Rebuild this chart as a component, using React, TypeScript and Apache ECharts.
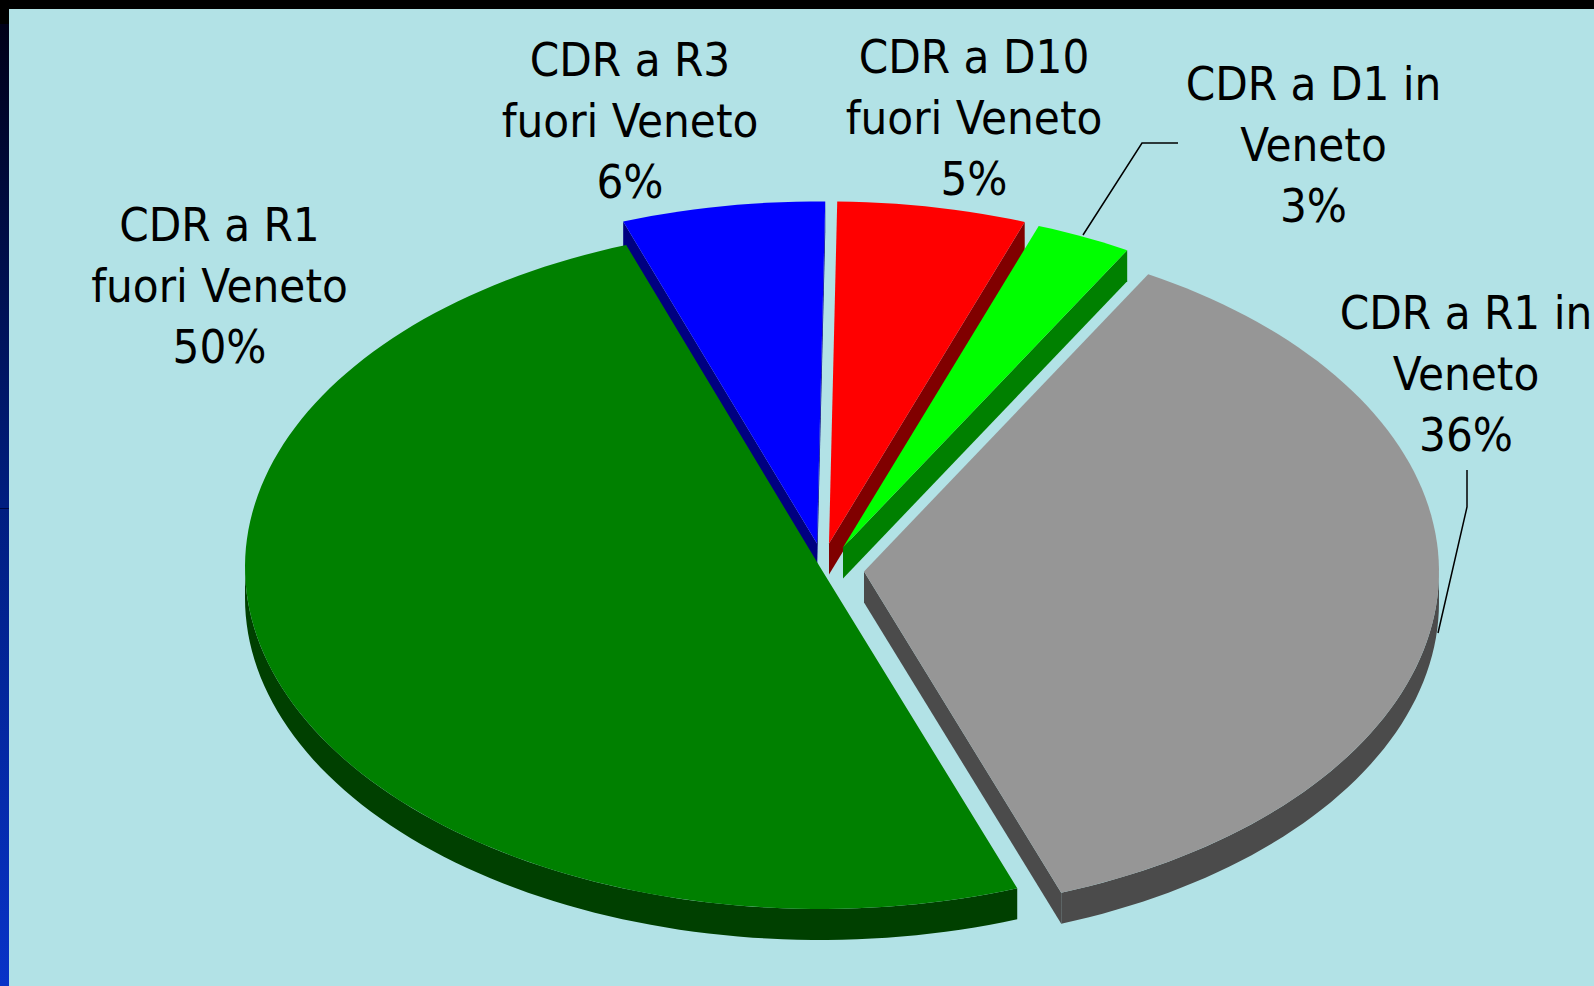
import React, { useEffect, useRef } from "react";
import * as echarts from "echarts";

const categories = [
  "CDR a R3\nfuori Veneto",
  "CDR a D10\nfuori Veneto",
  "CDR a D1 in\nVeneto",
  "CDR a R1 in\nVeneto",
  "CDR a R1\nfuori Veneto",
];
const seriesValues = [5.7, 5.3, 2.7, 36.2, 50.1];
const topColors = ["#0000FF", "#FF0000", "#00FF00", "#969696", "#008000"];
const sideColors = ["#000080", "#800000", "#008000", "#4B4B4B", "#004000"];
// where each slice's tip sits, after the exploded offset
const apexX = [817, 829, 843, 864, 820];
const apexY = [543.5, 543.5, 547.5, 571.5, 567];
const labelX = [630, 974, 1313.5, 1466, 219.5];
const labelY = [120, 117, 144, 373, 285.5];

const START_ANGLE = -19.7;
const RX = 575;
const RY = 342;
const DEPTH = 31;
const FONT = '"DejaVu Sans Condensed", "DejaVu Sans", sans-serif';
const total = seriesValues.reduce((a, b) => a + b, 0);

function pt(i: number, deg: number, dy = 0): number[] {
  const r = (deg * Math.PI) / 180;
  return [apexX[i] + RX * Math.sin(r), apexY[i] - RY * Math.cos(r) + dy];
}

function arc(i: number, a: number, b: number, dy = 0): number[][] {
  const n = Math.max(2, Math.ceil(Math.abs(b - a) / 1.5));
  const out: number[][] = [];
  for (let k = 0; k <= n; k++) out.push(pt(i, a + ((b - a) * k) / n, dy));
  return out;
}

function wall(i: number, deg: number, fill: string) {
  const o = [apexX[i], apexY[i]];
  const e = pt(i, deg);
  return {
    type: "polygon",
    shape: { points: [o, e, [e[0], e[1] + DEPTH], [o[0], o[1] + DEPTH]] },
    style: { fill },
  };
}

function renderItem(params: any, api: any) {
  const i = params.dataIndex;
  const v = api.value(0);
  let before = 0;
  for (let k = 0; k < i; k++) before += seriesValues[k];
  const a = START_ANGLE + (before / total) * 360;
  const b = a + (v / total) * 360;
  const children: any[] = [];
  const side = sideColors[i];
  // radial walls that face the viewer
  if (Math.cos(((a - 90) * Math.PI) / 180) < 0) children.push(wall(i, a, side));
  if (Math.cos(((b + 90) * Math.PI) / 180) < 0) children.push(wall(i, b, side));
  // outer rim on the near half
  const from = Math.max(a, 90);
  const to = Math.min(b, 270);
  if (to > from) {
    children.push({
      type: "polygon",
      shape: { points: [...arc(i, from, to), ...arc(i, to, from, DEPTH)] },
      style: { fill: side },
    });
  }
  children.push({
    type: "polygon",
    shape: { points: [[apexX[i], apexY[i]], ...arc(i, a, b)] },
    style: { fill: topColors[i] },
  });
  children.push({
    type: "text",
    z2: 10,
    style: {
      x: labelX[i],
      y: labelY[i],
      text: `${categories[i]}\n${Math.round(v)}%`,
      font: `47px ${FONT}`,
      lineHeight: 61,
      align: "center",
      verticalAlign: "middle",
      fill: "#000000",
    },
  });
  return { type: "group", children };
}

export default function App() {
  const ref = useRef<HTMLDivElement>(null);
  useEffect(() => {
    const chart = echarts.init(ref.current!, undefined, { renderer: "svg" });
    chart.setOption({
      animation: false,
      backgroundColor: "#000000",
      graphic: [
        {
          type: "rect",
          z: 0,
          shape: { x: 0, y: 24, width: 9, height: 962 },
          style: {
            fill: new echarts.graphic.LinearGradient(0, 0, 0, 1, [
              { offset: 0, color: "#000018" },
              { offset: 0.5, color: "#001E80" },
              { offset: 1, color: "#0833C8" },
            ]),
          },
        },
        { type: "rect", z: 0, shape: { x: 0, y: 508, width: 9, height: 1 }, style: { fill: "#000840" } },
        { type: "rect", z: 0, shape: { x: 9, y: 9, width: 1585, height: 977 }, style: { fill: "#B2E2E6" } },
        {
          type: "polyline",
          z: 10,
          shape: { points: [[1083, 235], [1142, 143], [1178, 143]] },
          style: { stroke: "#000000", lineWidth: 1.5, fill: "none" },
        },
        {
          type: "polyline",
          z: 10,
          shape: { points: [[1467, 470], [1467, 507], [1438, 633]] },
          style: { stroke: "#000000", lineWidth: 1.5, fill: "none" },
        },
      ],
      series: [
        {
          type: "custom",
          coordinateSystem: "none",
          silent: true,
          renderItem,
          data: seriesValues.map((v, i) => ({ name: categories[i], value: [v] })),
        },
      ],
    });
    return () => chart.dispose();
  }, []);
  return <div ref={ref} style={{ position: "fixed", left: 0, top: 0, width: 1594, height: 986 }} />;
}
